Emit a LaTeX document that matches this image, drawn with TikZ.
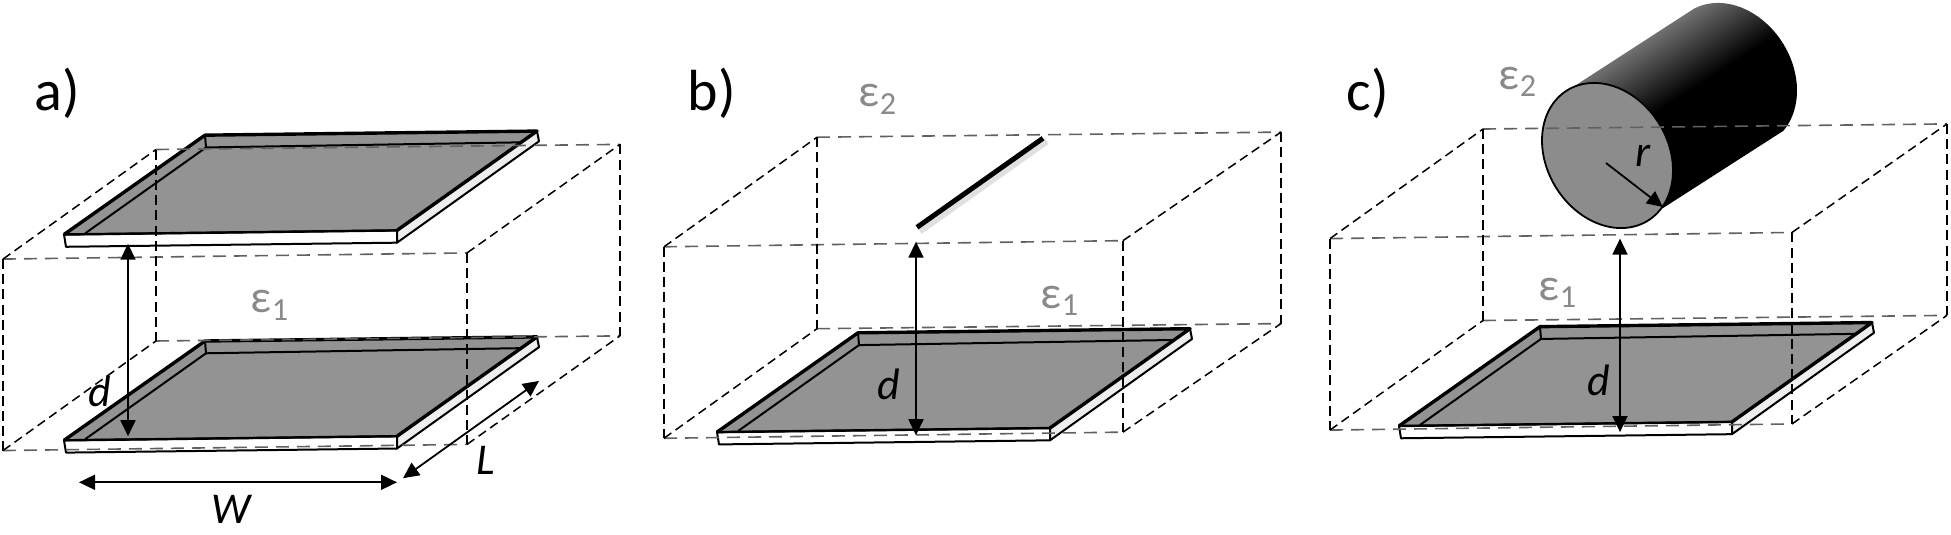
\documentclass[tikz,border=0pt]{standalone}
\usepackage{fontspec}
\setmainfont{Carlito}
\usetikzlibrary{arrows.meta}
\tikzset{
	plateedge/.style={line width=1.7pt, line join=round},
	platelow/.style={line width=1pt, line join=round},
	boxflat/.style={line width=.8pt, dash pattern=on 6.5pt off 4pt, draw=black!62},
	boxvert/.style={line width=1.2pt, dash pattern=on 5pt off 2.6pt},
	boxdiag/.style={line width=.75pt, dash pattern=on 4.5pt off 2.6pt},
	dimarrow/.style={line width=.9pt, <->, >={Triangle[length=8pt,width=7.5pt]}},
	panellabel/.style={font=\fontsize{29}{29}\selectfont, inner sep=0pt},
	permlabel/.style={font=\fontsize{23}{23}\selectfont, text=permgray, inner sep=0pt},
	dimlabel/.style={font=\fontsize{22}{22}\selectfont\itshape, inner sep=0pt},
}
\definecolor{plategray}{HTML}{939393}
\definecolor{facegray}{HTML}{8C8C8C}
\definecolor{stripgray}{HTML}{EEEEEE}
\definecolor{permgray}{HTML}{8A8A8A}
\pgfdeclareverticalshading{cylbody}{100bp}{
	color(0bp)=(black); color(53bp)=(black); color(78bp)=(black!50); color(86bp)=(black!50);
	color(99bp)=(black!90); color(100bp)=(black)}
\begin{document}
\begin{tikzpicture}[x=.5pt,y=-.512pt]
	\useasboundingbox (0,0) rectangle (1951,521.5);

	% plates
	\foreach \sx/\sy in {0/0, 0/201, 653/193, 1335/187}{
		\begin{scope}[shift={(\sx,\sy)}]
			\fill[plategray] (64,229) -- (205,132) -- (537,128) -- (397,225) -- cycle;
			\draw[platelow, fill=white] (64,229) -- (66,241) -- (397,237) -- (397,225) -- cycle;
			\draw[platelow, fill=stripgray] (397,225) -- (397,237) -- (539,138) -- (537,128) -- cycle;
			\draw[platelow] (85,228) -- (206,144) -- (521,139);
			\draw[platelow] (205,132) -- (206,144);
			\draw[plateedge] (64,229) -- (205,132) -- (537,128) -- (397,225);
			\draw[line width=1.2pt] (64,229) -- (397,225);
		\end{scope}
	}

	% wire
	\draw[line width=3pt, black!20, opacity=.6] (920,226) -- (1047,138);
	\draw[line width=2.5pt] (917,222) -- (1043,135);

	% cylinder
	\begin{scope}[y=-.5pt]
		\begin{scope}
			\clip (1573,87) -- plot[domain=-132.8:42.2,samples=60] ({1731.5+65.5*cos(\x)},{75.5+15*cos(\x)+71*sin(\x)}) -- (1663,208) -- cycle;
			\shade[shading=cylbody, transform canvas={shift={(1676,110)},rotate=32.7}] (-220,-75.5) rectangle (220,75.5);
		\end{scope}
		\draw[line width=.9pt, fill=facegray] plot[domain=0:360,samples=80,smooth] ({1607.5+65.5*cos(\x)},{155.5+15*cos(\x)+71*sin(\x)}) -- cycle;
		\coordinate (rMid) at (1606,163);
		\coordinate (rEdge) at (1663,207);
		\node[dimlabel] (labr) at (1643,156) {r};
	\end{scope}

	% dashed boxes
	\foreach \sx/\sy/\fx in {0/0/0, 661/-12/-5, 1327/-20/-2}{
		\begin{scope}[shift={(\sx,\sy)}]
			\draw[boxflat] (3,253) -- (467+\fx,247);
			\draw[boxflat] (156,146) -- (620,141);
			\draw[boxflat] (3,440) -- (467+\fx,434);
			\draw[boxflat] (156,333) -- (620,328);
			\draw[boxvert] (3,253) -- (3,440);
			\draw[boxvert] (467+\fx,247) -- (467+\fx,434);
			\draw[boxvert] (156,146) -- (156,333);
			\draw[boxvert] (620,141) -- (620,328);
			\draw[boxdiag] (3,253) -- (156,146);
			\draw[boxdiag] (467+\fx,247) -- (620,141);
			\draw[boxdiag] (3,440) -- (156,333);
			\draw[boxdiag] (467+\fx,434) -- (620,328);
		\end{scope}
	}

	% dimensions
	\coordinate (daTop) at (128,238);
	\coordinate (daEnd) at (128,426);
	\coordinate (dbTop) at (916,236);
	\coordinate (dbEnd) at (916,425);
	\coordinate (dcTop) at (1620,233);
	\coordinate (dcEnd) at (1620,422);
	\coordinate (wLeft) at (79,471);
	\coordinate (wRight) at (397,471);
	\coordinate (lBack) at (539,372);
	\coordinate (lFront) at (403,467);
	\draw[dimarrow] (daTop) -- (daEnd);
	\draw[dimarrow] (dbTop) -- (dbEnd);
	\draw[dimarrow] (dcTop) -- (dcEnd);
	\draw[dimarrow] (wLeft) -- (wRight);
	\draw[dimarrow] (lBack) -- (lFront);
	\draw[line width=.9pt, -{Triangle[length=8pt,width=7.5pt]}] (rMid) -- (rEdge);

	% labels
	\node[panellabel] (panelA) at (57,91) {a)};
	\node[panellabel] (panelB) at (712,91) {b)};
	\node[panellabel] (panelC) at (1368,91) {c)};
	\node[permlabel] (epsAone) at (270,298) {ε\textsubscript{1}};
	\node[permlabel] (epsBtwo) at (878,97) {ε\textsubscript{2}};
	\node[permlabel] (epsBone) at (1060,294) {ε\textsubscript{1}};
	\node[permlabel] (epsCtwo) at (1518,80) {ε\textsubscript{2}};
	\node[permlabel] (epsCone) at (1558,286) {ε\textsubscript{1}};
	\node[dimlabel] (dA) at (100,382) {d};
	\node[dimlabel] (dB) at (889,375) {d};
	\node[dimlabel] (dC) at (1599,371) {d};
	\node[dimlabel] (labW) at (231,497) {W};
	\node[dimlabel] (labL) at (486,450) {L};
\end{tikzpicture}
\end{document}
